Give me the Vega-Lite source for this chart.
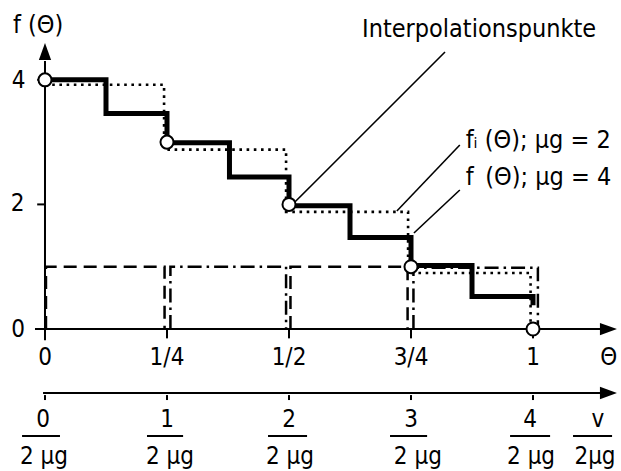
{
  "$schema": "https://vega.github.io/schema/vega-lite/v6.json",
  "width": 621,
  "height": 471,
  "autosize": {"type": "none"},
  "padding": 0,
  "background": "white",
  "config": {"view": {"stroke": null}},
  "datasets": {
    "steps": [
      {"series": "f4", "i": 0, "x": 0, "y": 4.0},
      {"series": "f4", "i": 1, "x": 0.125, "y": 4.0},
      {"series": "f4", "i": 2, "x": 0.125, "y": 3.46},
      {"series": "f4", "i": 3, "x": 0.25, "y": 3.46},
      {"series": "f4", "i": 4, "x": 0.25, "y": 2.99},
      {"series": "f4", "i": 5, "x": 0.378, "y": 2.99},
      {"series": "f4", "i": 6, "x": 0.378, "y": 2.44},
      {"series": "f4", "i": 7, "x": 0.5, "y": 2.44},
      {"series": "f4", "i": 8, "x": 0.5, "y": 1.98},
      {"series": "f4", "i": 9, "x": 0.625, "y": 1.98},
      {"series": "f4", "i": 10, "x": 0.625, "y": 1.47},
      {"series": "f4", "i": 11, "x": 0.75, "y": 1.47},
      {"series": "f4", "i": 12, "x": 0.75, "y": 1.02},
      {"series": "f4", "i": 13, "x": 0.875, "y": 1.02},
      {"series": "f4", "i": 14, "x": 0.875, "y": 0.52},
      {"series": "f4", "i": 15, "x": 1.0, "y": 0.52},
      {"series": "f4", "i": 16, "x": 1.0, "y": 0.38},
      {"series": "fi2", "i": 0, "x": 0, "y": 3.92},
      {"series": "fi2", "i": 1, "x": 0.244, "y": 3.92},
      {"series": "fi2", "i": 2, "x": 0.244, "y": 2.88},
      {"series": "fi2", "i": 3, "x": 0.494, "y": 2.88},
      {"series": "fi2", "i": 4, "x": 0.494, "y": 1.88},
      {"series": "fi2", "i": 5, "x": 0.744, "y": 1.88},
      {"series": "fi2", "i": 6, "x": 0.744, "y": 0.9},
      {"series": "fi2", "i": 7, "x": 0.995, "y": 0.9},
      {"series": "fi2", "i": 8, "x": 0.995, "y": 0},
      {"series": "p1", "i": 0, "x": 0.002, "y": 0},
      {"series": "p1", "i": 1, "x": 0.002, "y": 1.0},
      {"series": "p1", "i": 2, "x": 0.245, "y": 1.0},
      {"series": "p1", "i": 3, "x": 0.245, "y": 0},
      {"series": "p2", "i": 0, "x": 0.257, "y": 0},
      {"series": "p2", "i": 1, "x": 0.257, "y": 1.0},
      {"series": "p2", "i": 2, "x": 0.494, "y": 1.0},
      {"series": "p2", "i": 3, "x": 0.494, "y": 0},
      {"series": "p3", "i": 0, "x": 0.503, "y": 0},
      {"series": "p3", "i": 1, "x": 0.503, "y": 1.0},
      {"series": "p3", "i": 2, "x": 0.743, "y": 1.0},
      {"series": "p3", "i": 3, "x": 0.743, "y": 0},
      {"series": "p4", "i": 0, "x": 0.755, "y": 0},
      {"series": "p4", "i": 1, "x": 0.755, "y": 0.985},
      {"series": "p4", "i": 2, "x": 1.01, "y": 0.985},
      {"series": "p4", "i": 3, "x": 1.01, "y": 0}
    ],
    "points": [
      {"x": 0, "y": 4},
      {"x": 0.25, "y": 3},
      {"x": 0.5, "y": 2},
      {"x": 0.75, "y": 1},
      {"x": 1, "y": 0}
    ],
    "rules": [
      {"x": 0, "y": -0.18, "x2": 0, "y2": 4.3, "w": "axis"},
      {"x": -0.0205, "y": 0, "x2": 1.14, "y2": 0, "w": "axis"},
      {"x": 0.25, "y": 0, "x2": 0.25, "y2": -0.15, "w": "axis"},
      {"x": 0.5, "y": 0, "x2": 0.5, "y2": -0.15, "w": "axis"},
      {"x": 0.75, "y": 0, "x2": 0.75, "y2": -0.15, "w": "axis"},
      {"x": 1.0, "y": 0, "x2": 1.0, "y2": -0.15, "w": "axis"},
      {"x": -0.016, "y": 2, "x2": 0, "y2": 2, "w": "axis"},
      {"x": -0.016, "y": 4, "x2": 0, "y2": 4, "w": "axis"},
      {"x": -0.004, "y": -1.027, "x2": 1.14, "y2": -1.027, "w": "axis"},
      {"x": 0, "y": -1.06, "x2": 0, "y2": -1.14, "w": "axis"},
      {"x": 0.25, "y": -1.06, "x2": 0.25, "y2": -1.14, "w": "axis"},
      {"x": 0.5, "y": -1.06, "x2": 0.5, "y2": -1.14, "w": "axis"},
      {"x": 0.75, "y": -1.06, "x2": 0.75, "y2": -1.14, "w": "axis"},
      {"x": 1.0, "y": -1.06, "x2": 1.0, "y2": -1.14, "w": "axis"},
      {"x": -0.047, "y": -1.717, "x2": 0.0307, "y2": -1.717, "w": "bar"},
      {"x": 0.209, "y": -1.717, "x2": 0.283, "y2": -1.717, "w": "bar"},
      {"x": 0.457, "y": -1.717, "x2": 0.537, "y2": -1.717, "w": "bar"},
      {"x": 0.707, "y": -1.717, "x2": 0.783, "y2": -1.717, "w": "bar"},
      {"x": 0.953, "y": -1.717, "x2": 1.035, "y2": -1.717, "w": "bar"},
      {"x": 1.082, "y": -1.717, "x2": 1.162, "y2": -1.717, "w": "bar"},
      {"x": 0.8197, "y": 4.446, "x2": 0.508, "y2": 2.006, "w": "leader"},
      {"x": 0.85, "y": 2.953, "x2": 0.721, "y2": 1.894, "w": "leader"},
      {"x": 0.85, "y": 2.231, "x2": 0.756, "y2": 1.541, "w": "leader"}
    ],
    "arrows": [
      {"x": 1.172, "y": 0, "dir": "right"},
      {"x": 1.172, "y": -1.027, "dir": "right"},
      {"x": 0, "y": 4.59, "dir": "up"}
    ],
    "labels": [
      {"x": -0.054, "y": 3.98, "text": "4"},
      {"x": -0.056, "y": 2.0, "text": "2"},
      {"x": -0.055, "y": -0.016, "text": "0"},
      {"x": 0, "y": -0.465, "text": "0"},
      {"x": 0.25, "y": -0.465, "text": "1/4"},
      {"x": 0.5, "y": -0.465, "text": "1/2"},
      {"x": 0.75, "y": -0.465, "text": "3/4"},
      {"x": 1.0, "y": -0.465, "text": "1"},
      {"x": 1.155, "y": -0.465, "text": "Θ"},
      {"x": -0.004, "y": -1.461, "text": "0"},
      {"x": 0.25, "y": -1.461, "text": "1"},
      {"x": 0.5, "y": -1.461, "text": "2"},
      {"x": 0.75, "y": -1.461, "text": "3"},
      {"x": 0.994, "y": -1.461, "text": "4"},
      {"x": 1.133, "y": -1.461, "text": "v"},
      {"x": -0.002, "y": -2.055, "text": "2 μg"},
      {"x": 0.256, "y": -2.055, "text": "2 μg"},
      {"x": 0.502, "y": -2.055, "text": "2 μg"},
      {"x": 0.764, "y": -2.055, "text": "2 μg"},
      {"x": 0.996, "y": -2.055, "text": "2 μg"},
      {"x": 1.127, "y": -2.055, "text": "2μg"}
    ],
    "notes": [
      {"x": -0.0656, "y": 4.751, "text": "f (Θ)"},
      {"x": 0.6496, "y": 4.687, "text": "Interpolationspunkte"},
      {"x": 0.862, "y": 2.905, "text": "fᵢ (Θ); μg = 2"},
      {"x": 0.862, "y": 2.311, "text": "f\u2009\u00a0(Θ); μg = 4"}
    ]
  },
  "encoding": {
    "x": {"field": "x", "type": "quantitative", "axis": null, "scale": {"domain": [-0.0922, 1.1803], "nice": false, "zero": false}},
    "y": {"field": "y", "type": "quantitative", "axis": null, "scale": {"domain": [-2.279, 5.281], "nice": false, "zero": false}}
  },
  "layer": [
    {
      "data": {"name": "steps"},
      "transform": [{"filter": "datum.series == 'p1' || datum.series == 'p3'"}],
      "mark": {"type": "line", "color": "black", "strokeWidth": 2.5, "strokeDash": [13, 7], "strokeCap": "butt"},
      "encoding": {"detail": {"field": "series"}, "order": {"field": "i"}}
    },
    {
      "data": {"name": "steps"},
      "transform": [{"filter": "datum.series == 'p2' || datum.series == 'p4'"}],
      "mark": {"type": "line", "color": "black", "strokeWidth": 2.5, "strokeDash": [14, 5, 2.5, 5], "strokeCap": "butt"},
      "encoding": {"detail": {"field": "series"}, "order": {"field": "i"}}
    },
    {
      "data": {"name": "steps"},
      "transform": [{"filter": "datum.series == 'fi2'"}],
      "mark": {"type": "line", "color": "black", "strokeWidth": 2.6, "strokeDash": [2.6, 4.6], "strokeCap": "butt"},
      "encoding": {"order": {"field": "i"}}
    },
    {
      "data": {"name": "steps"},
      "transform": [{"filter": "datum.series == 'f4'"}],
      "mark": {"type": "line", "color": "black", "strokeWidth": 5, "strokeJoin": "miter", "strokeCap": "butt"},
      "encoding": {"order": {"field": "i"}}
    },
    {
      "data": {"name": "rules"},
      "transform": [{"filter": "datum.w == 'axis'"}],
      "mark": {"type": "rule", "color": "black", "strokeWidth": 2},
      "encoding": {"x2": {"field": "x2"}, "y2": {"field": "y2"}}
    },
    {
      "data": {"name": "rules"},
      "transform": [{"filter": "datum.w == 'bar'"}],
      "mark": {"type": "rule", "color": "black", "strokeWidth": 1.8},
      "encoding": {"x2": {"field": "x2"}, "y2": {"field": "y2"}}
    },
    {
      "data": {"name": "rules"},
      "transform": [{"filter": "datum.w == 'leader'"}],
      "mark": {"type": "rule", "color": "black", "strokeWidth": 1.6},
      "encoding": {"x2": {"field": "x2"}, "y2": {"field": "y2"}}
    },
    {
      "data": {"name": "arrows"},
      "transform": [{"filter": "datum.dir == 'right'"}],
      "mark": {"type": "point", "shape": "M0,0 L-2,-0.72 L-2,0.72 Z", "size": 290, "filled": true, "color": "black", "opacity": 1, "strokeWidth": 0}
    },
    {
      "data": {"name": "arrows"},
      "transform": [{"filter": "datum.dir == 'up'"}],
      "mark": {"type": "point", "shape": "M0,0 L-0.72,2 L0.72,2 Z", "size": 290, "filled": true, "color": "black", "opacity": 1, "strokeWidth": 0}
    },
    {
      "data": {"name": "points"},
      "mark": {"type": "point", "shape": "circle", "size": 170, "filled": true, "fill": "white", "stroke": "black", "strokeWidth": 2, "opacity": 1}
    },
    {
      "data": {"name": "labels"},
      "mark": {"type": "text", "align": "center", "baseline": "middle", "font": "DejaVu Sans Condensed, DejaVu Sans", "fontSize": 24, "color": "black"},
      "encoding": {"text": {"field": "text"}}
    },
    {
      "data": {"name": "notes"},
      "mark": {"type": "text", "align": "left", "baseline": "alphabetic", "font": "DejaVu Sans Condensed, DejaVu Sans", "fontSize": 25, "color": "black"},
      "encoding": {"text": {"field": "text"}}
    }
  ]
}
